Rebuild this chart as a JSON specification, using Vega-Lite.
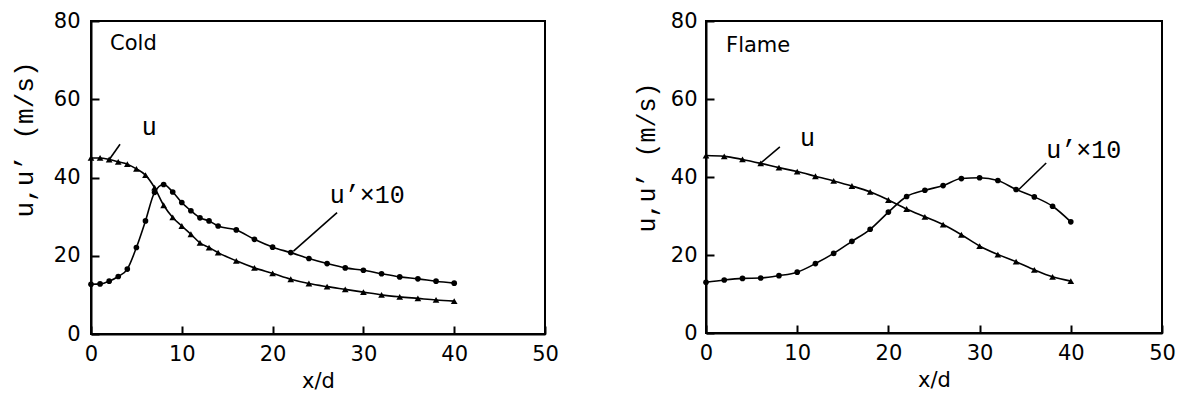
{
  "$schema": "https://vega.github.io/schema/vega-lite/v6.json",
  "background": "white",
  "autosize": {"type": "pad"},
  "padding": {"left": 9, "top": 9, "right": 0, "bottom": 0},
  "datasets": {
    "curves": [
      {"panel":"Cold","series":"u","xd":0,"v":45.0},
      {"panel":"Cold","series":"u","xd":1,"v":45.0},
      {"panel":"Cold","series":"u","xd":2,"v":44.6},
      {"panel":"Cold","series":"u","xd":3,"v":44.0},
      {"panel":"Cold","series":"u","xd":4,"v":43.4},
      {"panel":"Cold","series":"u","xd":5,"v":42.2},
      {"panel":"Cold","series":"u","xd":6,"v":40.6},
      {"panel":"Cold","series":"u","xd":7,"v":37.4},
      {"panel":"Cold","series":"u","xd":8,"v":32.9},
      {"panel":"Cold","series":"u","xd":9,"v":29.8},
      {"panel":"Cold","series":"u","xd":10,"v":27.6},
      {"panel":"Cold","series":"u","xd":11,"v":25.5},
      {"panel":"Cold","series":"u","xd":12,"v":23.3},
      {"panel":"Cold","series":"u","xd":13,"v":22.1},
      {"panel":"Cold","series":"u","xd":14,"v":20.8},
      {"panel":"Cold","series":"u","xd":16,"v":18.7},
      {"panel":"Cold","series":"u","xd":18,"v":16.9},
      {"panel":"Cold","series":"u","xd":20,"v":15.5},
      {"panel":"Cold","series":"u","xd":22,"v":14.0},
      {"panel":"Cold","series":"u","xd":24,"v":12.9},
      {"panel":"Cold","series":"u","xd":26,"v":12.1},
      {"panel":"Cold","series":"u","xd":28,"v":11.4},
      {"panel":"Cold","series":"u","xd":30,"v":10.7},
      {"panel":"Cold","series":"u","xd":32,"v":10.0},
      {"panel":"Cold","series":"u","xd":34,"v":9.5},
      {"panel":"Cold","series":"u","xd":36,"v":9.1},
      {"panel":"Cold","series":"u","xd":38,"v":8.7},
      {"panel":"Cold","series":"u","xd":40,"v":8.4},
      {"panel":"Cold","series":"u'","xd":0,"v":12.7},
      {"panel":"Cold","series":"u'","xd":1,"v":12.8},
      {"panel":"Cold","series":"u'","xd":2,"v":13.5},
      {"panel":"Cold","series":"u'","xd":3,"v":14.7},
      {"panel":"Cold","series":"u'","xd":4,"v":16.6},
      {"panel":"Cold","series":"u'","xd":5,"v":22.1},
      {"panel":"Cold","series":"u'","xd":6,"v":28.9},
      {"panel":"Cold","series":"u'","xd":7,"v":36.2},
      {"panel":"Cold","series":"u'","xd":8,"v":38.2},
      {"panel":"Cold","series":"u'","xd":9,"v":36.3},
      {"panel":"Cold","series":"u'","xd":10,"v":33.6},
      {"panel":"Cold","series":"u'","xd":11,"v":31.5},
      {"panel":"Cold","series":"u'","xd":12,"v":29.7},
      {"panel":"Cold","series":"u'","xd":13,"v":28.9},
      {"panel":"Cold","series":"u'","xd":14,"v":27.6},
      {"panel":"Cold","series":"u'","xd":16,"v":26.6},
      {"panel":"Cold","series":"u'","xd":18,"v":24.2},
      {"panel":"Cold","series":"u'","xd":20,"v":22.2},
      {"panel":"Cold","series":"u'","xd":22,"v":20.8},
      {"panel":"Cold","series":"u'","xd":24,"v":19.3},
      {"panel":"Cold","series":"u'","xd":26,"v":18.0},
      {"panel":"Cold","series":"u'","xd":28,"v":16.9},
      {"panel":"Cold","series":"u'","xd":30,"v":16.3},
      {"panel":"Cold","series":"u'","xd":32,"v":15.4},
      {"panel":"Cold","series":"u'","xd":34,"v":14.6},
      {"panel":"Cold","series":"u'","xd":36,"v":14.1},
      {"panel":"Cold","series":"u'","xd":38,"v":13.5},
      {"panel":"Cold","series":"u'","xd":40,"v":13.0},
      {"panel":"Flame","series":"u","xd":0,"v":45.5},
      {"panel":"Flame","series":"u","xd":2,"v":45.3},
      {"panel":"Flame","series":"u","xd":4,"v":44.5},
      {"panel":"Flame","series":"u","xd":6,"v":43.5},
      {"panel":"Flame","series":"u","xd":8,"v":42.4},
      {"panel":"Flame","series":"u","xd":10,"v":41.4},
      {"panel":"Flame","series":"u","xd":12,"v":40.2},
      {"panel":"Flame","series":"u","xd":14,"v":39.0},
      {"panel":"Flame","series":"u","xd":16,"v":37.7},
      {"panel":"Flame","series":"u","xd":18,"v":36.2},
      {"panel":"Flame","series":"u","xd":20,"v":34.1},
      {"panel":"Flame","series":"u","xd":22,"v":31.8},
      {"panel":"Flame","series":"u","xd":24,"v":29.8},
      {"panel":"Flame","series":"u","xd":26,"v":27.8},
      {"panel":"Flame","series":"u","xd":28,"v":25.2},
      {"panel":"Flame","series":"u","xd":30,"v":22.3},
      {"panel":"Flame","series":"u","xd":32,"v":20.1},
      {"panel":"Flame","series":"u","xd":34,"v":18.3},
      {"panel":"Flame","series":"u","xd":36,"v":16.2},
      {"panel":"Flame","series":"u","xd":38,"v":14.4},
      {"panel":"Flame","series":"u","xd":40,"v":13.3},
      {"panel":"Flame","series":"u'","xd":0,"v":13.0},
      {"panel":"Flame","series":"u'","xd":2,"v":13.6},
      {"panel":"Flame","series":"u'","xd":4,"v":14.0},
      {"panel":"Flame","series":"u'","xd":6,"v":14.1},
      {"panel":"Flame","series":"u'","xd":8,"v":14.7},
      {"panel":"Flame","series":"u'","xd":10,"v":15.6},
      {"panel":"Flame","series":"u'","xd":12,"v":17.8},
      {"panel":"Flame","series":"u'","xd":14,"v":20.4},
      {"panel":"Flame","series":"u'","xd":16,"v":23.5},
      {"panel":"Flame","series":"u'","xd":18,"v":26.6},
      {"panel":"Flame","series":"u'","xd":20,"v":31.0},
      {"panel":"Flame","series":"u'","xd":22,"v":35.0},
      {"panel":"Flame","series":"u'","xd":24,"v":36.6},
      {"panel":"Flame","series":"u'","xd":26,"v":37.8},
      {"panel":"Flame","series":"u'","xd":28,"v":39.6},
      {"panel":"Flame","series":"u'","xd":30,"v":39.8},
      {"panel":"Flame","series":"u'","xd":32,"v":39.1},
      {"panel":"Flame","series":"u'","xd":34,"v":36.8},
      {"panel":"Flame","series":"u'","xd":36,"v":34.9},
      {"panel":"Flame","series":"u'","xd":38,"v":32.5},
      {"panel":"Flame","series":"u'","xd":40,"v":28.5}
    ],
    "labels": [
      {"panel":"Cold","kind":"name","label":"Cold","xd":2.1,"v":74},
      {"panel":"Cold","kind":"curve","label":"u","xd":5.6,"v":52.9},
      {"panel":"Cold","kind":"curve","label":"u’×10","xd":26.3,"v":35.4},
      {"panel":"Flame","kind":"name","label":"Flame","xd":2.2,"v":73.6},
      {"panel":"Flame","kind":"curve","label":"u","xd":10.3,"v":50.0},
      {"panel":"Flame","kind":"curve","label":"u’×10","xd":37.3,"v":46.8}
    ],
    "leaders": [
      {"panel":"Cold","xd":3.2,"v":48.5,"xd2":1.9,"v2":44.2},
      {"panel":"Cold","xd":27.1,"v":31.0,"xd2":22.3,"v2":21.2},
      {"panel":"Flame","xd":8.1,"v":47.7,"xd2":5.8,"v2":43.2},
      {"panel":"Flame","xd":37.3,"v":43.6,"xd2":34.3,"v2":36.8}
    ]
  },
  "config": {
    "view": {"stroke": "black", "strokeWidth": 2},
    "concat": {"spacing": 72},
    "axis": {
      "grid": false,
      "domainColor": "black",
      "domainWidth": 2,
      "tickColor": "black",
      "tickWidth": 2,
      "tickSize": -8,
      "labelFont": "DejaVu Sans",
      "labelFontSize": 21,
      "labelColor": "black",
      "titleColor": "black",
      "titleFontWeight": "normal"
    },
    "text": {"color": "black"}
  },
  "hconcat": [
    {
      "width": 454,
      "height": 313,
      "encoding": {
        "x": {"field": "xd", "type": "quantitative", "scale": {"domain": [0, 50], "nice": false},
              "axis": {"title": "x/d", "values": [0,10,20,30,40,50], "titleFont": "DejaVu Sans", "titleFontSize": 21, "labelPadding": 17, "titlePadding": 6, "labelFlush": false}},
        "y": {"field": "v", "type": "quantitative", "scale": {"domain": [0, 80], "nice": false},
              "axis": {"title": "u,u’  (m/s)", "values": [0,20,40,60,80], "titleFont": "Liberation Mono", "titleFontSize": 26, "titleX": -67, "titleY": 118, "titleAlign": "center", "titleBaseline": "middle", "titleAngle": -90, "labelPadding": 19, "labelFlush": false}}
      },
      "layer": [
        {"data": {"name": "curves"}, "transform": [{"filter": "datum.panel === 'Cold'"}],
         "mark": {"type": "line", "interpolate": "monotone", "color": "black", "strokeWidth": 1.6},
         "encoding": {"detail": {"field": "series"}}},
        {"data": {"name": "curves"}, "transform": [{"filter": "datum.panel === 'Cold'"}],
         "mark": {"type": "point", "filled": true, "color": "black", "opacity": 1},
         "encoding": {
           "shape": {"field": "series", "scale": {"domain": ["u", "u'"], "range": ["triangle-up", "circle"]}, "legend": null},
           "size": {"field": "series", "scale": {"type": "ordinal", "domain": ["u", "u'"], "range": [45, 32]}, "legend": null}}},
        {"data": {"name": "leaders"}, "transform": [{"filter": "datum.panel === 'Cold'"}],
         "mark": {"type": "rule", "color": "black", "strokeWidth": 1.6},
         "encoding": {"x2": {"field": "xd2"}, "y2": {"field": "v2"}}},
        {"data": {"name": "labels"}, "transform": [{"filter": "datum.panel === 'Cold' && datum.kind === 'name'"}],
         "mark": {"type": "text", "align": "left", "baseline": "middle", "font": "DejaVu Sans", "fontSize": 21},
         "encoding": {"text": {"field": "label"}}},
        {"data": {"name": "labels"}, "transform": [{"filter": "datum.panel === 'Cold' && datum.kind === 'curve'"}],
         "mark": {"type": "text", "align": "left", "baseline": "middle", "font": "Liberation Mono", "fontSize": 25},
         "encoding": {"text": {"field": "label"}}}
      ]
    },
    {
      "width": 456,
      "height": 312,
      "encoding": {
        "x": {"field": "xd", "type": "quantitative", "scale": {"domain": [0, 50], "nice": false},
              "axis": {"title": "x/d", "values": [0,10,20,30,40,50], "titleFont": "DejaVu Sans", "titleFontSize": 21, "labelPadding": 17, "titlePadding": 6, "labelFlush": false}},
        "y": {"field": "v", "type": "quantitative", "scale": {"domain": [0, 80], "nice": false},
              "axis": {"title": "u,u’  (m/s)", "values": [0,20,40,60,80], "titleFont": "Liberation Mono", "titleFontSize": 25, "titleX": -60, "titleY": 136, "titleAlign": "center", "titleBaseline": "middle", "titleAngle": -90, "labelPadding": 17, "labelFlush": false}}
      },
      "layer": [
        {"data": {"name": "curves"}, "transform": [{"filter": "datum.panel === 'Flame'"}],
         "mark": {"type": "line", "interpolate": "monotone", "color": "black", "strokeWidth": 1.6},
         "encoding": {"detail": {"field": "series"}}},
        {"data": {"name": "curves"}, "transform": [{"filter": "datum.panel === 'Flame'"}],
         "mark": {"type": "point", "filled": true, "color": "black", "opacity": 1},
         "encoding": {
           "shape": {"field": "series", "scale": {"domain": ["u", "u'"], "range": ["triangle-up", "circle"]}, "legend": null},
           "size": {"field": "series", "scale": {"type": "ordinal", "domain": ["u", "u'"], "range": [45, 32]}, "legend": null}}},
        {"data": {"name": "leaders"}, "transform": [{"filter": "datum.panel === 'Flame'"}],
         "mark": {"type": "rule", "color": "black", "strokeWidth": 1.6},
         "encoding": {"x2": {"field": "xd2"}, "y2": {"field": "v2"}}},
        {"data": {"name": "labels"}, "transform": [{"filter": "datum.panel === 'Flame' && datum.kind === 'name'"}],
         "mark": {"type": "text", "align": "left", "baseline": "middle", "font": "DejaVu Sans", "fontSize": 21},
         "encoding": {"text": {"field": "label"}}},
        {"data": {"name": "labels"}, "transform": [{"filter": "datum.panel === 'Flame' && datum.kind === 'curve'"}],
         "mark": {"type": "text", "align": "left", "baseline": "middle", "font": "Liberation Mono", "fontSize": 25},
         "encoding": {"text": {"field": "label"}}}
      ]
    }
  ]
}
